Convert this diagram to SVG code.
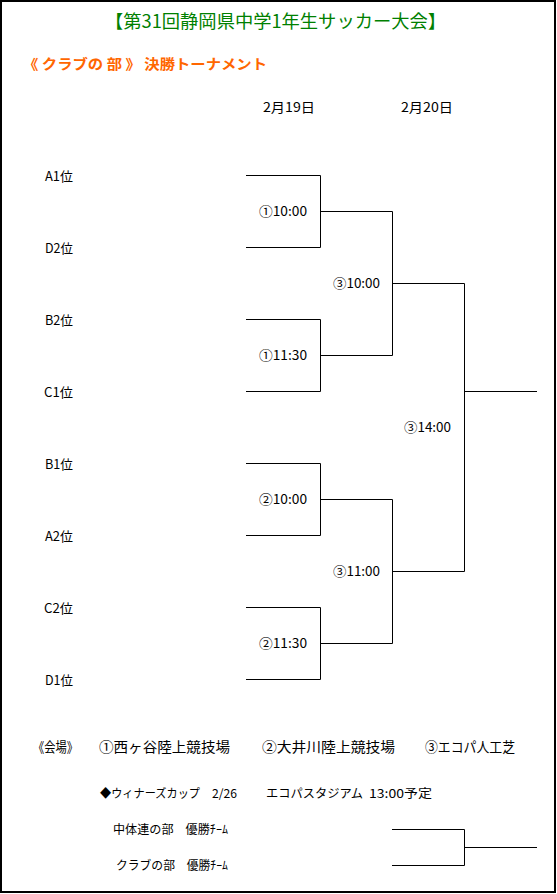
<svg xmlns="http://www.w3.org/2000/svg" width="557" height="894" viewBox="0 0 557 894">
<style>
text{font-family:"Noto Sans CJK JP","DejaVu Sans",sans-serif;fill:#000}
.t{font-size:13px}
.m{font-size:13px}
.title{font-size:18px;fill:#008000}
.sub{font-size:14px;fill:#FF6600;font-weight:bold}
.v{font-size:14px}
.w{font-size:12px}
.ln{stroke:#000;stroke-width:1;fill:none}
</style>
<rect x="1" y="1" width="554" height="891" fill="#fff" stroke="#000" stroke-width="2"/>
<text class="title" x="105" y="28" textLength="341" lengthAdjust="spacingAndGlyphs">【第31回静岡県中学1年生サッカー大会】</text>
<text class="sub" x="23" y="69" textLength="244" lengthAdjust="spacingAndGlyphs">《 クラブの 部 》 決勝トーナメント</text>
<text class="t" x="263" y="112" textLength="52" lengthAdjust="spacingAndGlyphs">2月19日</text>
<text class="t" x="401" y="112" textLength="52" lengthAdjust="spacingAndGlyphs">2月20日</text>
<g id="teams">
<g id="team-A1"><text class="t" x="45" y="181" textLength="28" lengthAdjust="spacingAndGlyphs">A1位</text></g>
<g id="team-D2"><text class="t" x="45" y="253" textLength="28" lengthAdjust="spacingAndGlyphs">D2位</text></g>
<g id="team-B2"><text class="t" x="45" y="325" textLength="28" lengthAdjust="spacingAndGlyphs">B2位</text></g>
<g id="team-C1"><text class="t" x="44" y="397" textLength="29" lengthAdjust="spacingAndGlyphs">C1位</text></g>
<g id="team-B1"><text class="t" x="45" y="469" textLength="28" lengthAdjust="spacingAndGlyphs">B1位</text></g>
<g id="team-A2"><text class="t" x="45" y="541" textLength="28" lengthAdjust="spacingAndGlyphs">A2位</text></g>
<g id="team-C2"><text class="t" x="44" y="613" textLength="29" lengthAdjust="spacingAndGlyphs">C2位</text></g>
<g id="team-D1"><text class="t" x="45" y="685" textLength="28" lengthAdjust="spacingAndGlyphs">D1位</text></g>
</g>
<g id="matches">
<g id="m1"><text class="m" x="259" y="216" textLength="48" lengthAdjust="spacingAndGlyphs">①10:00</text></g>
<g id="m2"><text class="m" x="259" y="360" textLength="48" lengthAdjust="spacingAndGlyphs">①11:30</text></g>
<g id="m3"><text class="m" x="259" y="504" textLength="48" lengthAdjust="spacingAndGlyphs">②10:00</text></g>
<g id="m4"><text class="m" x="259" y="648" textLength="48" lengthAdjust="spacingAndGlyphs">②11:30</text></g>
<g id="m5"><text class="m" x="333" y="288" textLength="47" lengthAdjust="spacingAndGlyphs">③10:00</text></g>
<g id="m6"><text class="m" x="333" y="576" textLength="47" lengthAdjust="spacingAndGlyphs">③11:00</text></g>
<g id="m7"><text class="m" x="404" y="432" textLength="47" lengthAdjust="spacingAndGlyphs">③14:00</text></g>
</g>
<g id="connectors" class="ln">
<path class="ln" d="M246 175.5H320.5V247.5H246M320.5 211.5H392.5"/>
<path class="ln" d="M246 319.5H320.5V391.5H246M320.5 355.5H392.5"/>
<path class="ln" d="M246 463.5H320.5V535.5H246M320.5 499.5H392.5"/>
<path class="ln" d="M246 607.5H320.5V679.5H246M320.5 643.5H392.5"/>
<path class="ln" d="M392.5 211.5V355.5M392.5 283.5H464.5"/>
<path class="ln" d="M392.5 499.5V643.5M392.5 571.5H464.5"/>
<path class="ln" d="M464.5 283.5V571.5M464.5 391.5H537"/>
<path class="ln" d="M392 829.5H464.5V865.5H392M464.5 847.5H537"/>
</g>
<g id="venues">
<text class="v" x="33" y="752" textLength="45" lengthAdjust="spacingAndGlyphs">《会場》</text>
<text class="v" x="99" y="752" textLength="131" lengthAdjust="spacingAndGlyphs">①西ヶ谷陸上競技場</text>
<text class="v" x="262" y="752" textLength="133" lengthAdjust="spacingAndGlyphs">②大井川陸上競技場</text>
<text class="v" x="425" y="752" textLength="90" lengthAdjust="spacingAndGlyphs">③エコパ人工芝</text>
</g>
<g id="winners">
<text class="w" x="100" y="798" textLength="100" lengthAdjust="spacingAndGlyphs">◆ウィナーズカップ</text>
<text class="w" x="212" y="798" textLength="25" lengthAdjust="spacingAndGlyphs">2/26</text>
<text class="w" x="266" y="798" textLength="97" lengthAdjust="spacingAndGlyphs">エコパスタジアム</text>
<text class="w" x="369" y="798" textLength="63" lengthAdjust="spacingAndGlyphs">13:00予定</text>
</g>
<g id="final-chutairen"><text class="w" x="113" y="834" textLength="115" lengthAdjust="spacingAndGlyphs">中体連の部　優勝ﾁｰﾑ</text></g>
<g id="final-club"><text class="w" x="116" y="870" textLength="112" lengthAdjust="spacingAndGlyphs">クラブの部　優勝ﾁｰﾑ</text></g>
</svg>
